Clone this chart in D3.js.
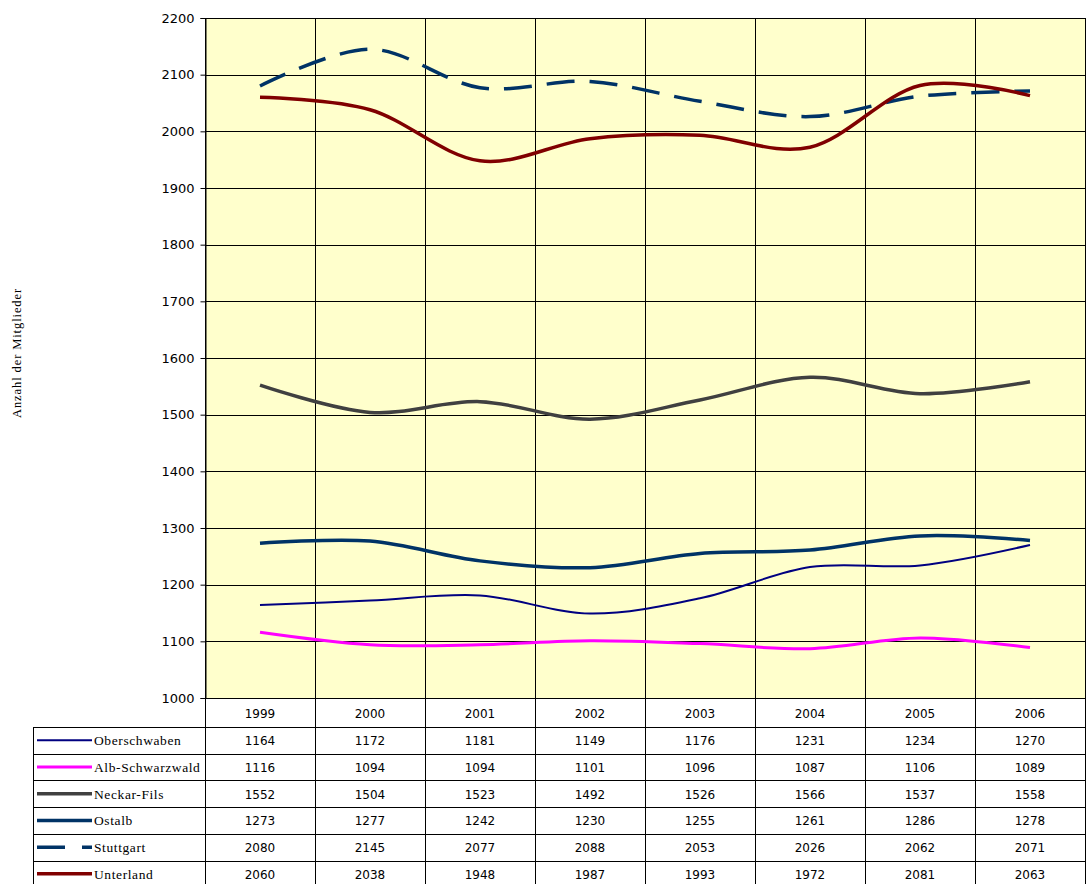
<!DOCTYPE html>
<html>
<head>
<meta charset="utf-8">
<script src="https://cdn.jsdelivr.net/npm/d3@7"></script>
<style>
  body { margin: 0; background: #fff; }
</style>
</head>
<body>
<div id="chart"></div>
<script>
// Data
let years = ["1999", "2000", "2001", "2002", "2003", "2004", "2005", "2006"];
let regions = ["Oberschwaben", "Alb-Schwarzwald", "Neckar-Fils", "Ostalb", "Stuttgart", "Unterland"];
let oberschwaben = [1164, 1172, 1181, 1149, 1176, 1231, 1234, 1270];
let albSchwarzwald = [1116, 1094, 1094, 1101, 1096, 1087, 1106, 1089];
let neckarFils = [1552, 1504, 1523, 1492, 1526, 1566, 1537, 1558];
let ostalb = [1273, 1277, 1242, 1230, 1255, 1261, 1286, 1278];
let stuttgart = [2080, 2145, 2077, 2088, 2053, 2026, 2062, 2071];
let unterland = [2060, 2038, 1948, 1987, 1993, 1972, 2081, 2063];
let yTicks = [1000, 1100, 1200, 1300, 1400, 1500, 1600, 1700, 1800, 1900, 2000, 2100, 2200];

// series styles
let seriesList = [
  { name: regions[0], values: oberschwaben, color: "#000080", width: 2, dash: null },
  { name: regions[1], values: albSchwarzwald, color: "#FF00FF", width: 3, dash: null },
  { name: regions[2], values: neckarFils, color: "#404040", width: 3.5, dash: null },
  { name: regions[3], values: ostalb, color: "#003366", width: 3.5, dash: null },
  { name: regions[4], values: stuttgart, color: "#003366", width: 3.5, dash: "28,15" },
  { name: regions[5], values: unterland, color: "#800000", width: 3.5, dash: null }
];

let numFont = "'DejaVu Sans', Tahoma, sans-serif";
let nameFont = "'Liberation Serif', 'DejaVu Serif', serif";

let svgWidth = 1086;
let svgHeight = 884;

// plot area
let plot = { left: 205, right: 1085, top: 18, bottom: 698 };
let headerHeight = 29;
let rowHeight = 26.7;
let tableLeft = 33;

let svg = d3.select("#chart")
  .append("svg")
  .attr("width", svgWidth)
  .attr("height", svgHeight);

let x = d3.scaleBand()
  .domain(years)
  .range([plot.left, plot.right]);

let y = d3.scaleLinear()
  .domain([1000, 2200])
  .range([plot.bottom, plot.top]);

// background
svg.append("rect")
  .attr("x", plot.left)
  .attr("y", plot.top)
  .attr("width", plot.right - plot.left)
  .attr("height", plot.bottom - plot.top)
  .attr("fill", "#FFFFCC");

// horizontal gridlines
svg.append("g")
  .selectAll("line")
  .data(yTicks)
  .enter()
  .append("line")
  .attr("x1", plot.left)
  .attr("x2", plot.right)
  .attr("y1", d => Math.round(y(d)) + 0.5)
  .attr("y2", d => Math.round(y(d)) + 0.5)
  .attr("stroke", "#000")
  .attr("stroke-width", 1);

let tableBottom = plot.bottom + headerHeight + rowHeight * regions.length;

// vertical lines (category boundaries), running through the table
let bounds = years.map(d => x(d)).concat([plot.right]);
svg.append("g")
  .selectAll("line")
  .data(bounds)
  .enter()
  .append("line")
  .attr("x1", d => Math.round(d) + 0.5)
  .attr("x2", d => Math.round(d) + 0.5)
  .attr("y1", plot.top)
  .attr("y2", tableBottom)
  .attr("stroke", "#000")
  .attr("stroke-width", 1);

// y axis
let leftAxis = d3.axisLeft(y)
  .tickValues(yTicks)
  .tickFormat(d3.format("d"))
  .tickSize(5)
  .tickPadding(6);

let yAxisG = svg.append("g")
  .attr("transform", `translate(${plot.left + 0.5}, 0)`)
  .call(leftAxis);
yAxisG.select(".domain").attr("stroke", "#000");
yAxisG.selectAll("text")
  .style("font-family", numFont)
  .style("font-size", "13px")
  .attr("fill", "#000");

// y axis title
svg.append("text")
  .attr("transform", `translate(21, 353) rotate(-90)`)
  .attr("text-anchor", "middle")
  .style("font-family", nameFont)
  .style("font-size", "12.5px")
  .style("letter-spacing", "0.9px")
  .text("Anzahl der Mitglieder");

// table: header row with years
svg.append("g")
  .selectAll("text")
  .data(years)
  .enter()
  .append("text")
  .attr("x", d => x(d) + x.bandwidth() / 2)
  .attr("y", plot.bottom + headerHeight / 2 + 5)
  .attr("text-anchor", "middle")
  .style("font-family", numFont)
  .style("font-size", "12px")
  .text(d => d);

// table row lines
let rowLines = d3.range(regions.length + 1).map(i => plot.bottom + headerHeight + i * rowHeight);
svg.append("g")
  .selectAll("line")
  .data(rowLines)
  .enter()
  .append("line")
  .attr("x1", tableLeft)
  .attr("x2", plot.right)
  .attr("y1", d => Math.round(d) + 0.5)
  .attr("y2", d => Math.round(d) + 0.5)
  .attr("stroke", "#000");

svg.append("line")
  .attr("x1", tableLeft + 0.5)
  .attr("x2", tableLeft + 0.5)
  .attr("y1", plot.bottom + headerHeight)
  .attr("y2", tableBottom)
  .attr("stroke", "#000");

// table rows: legend key, name and values
seriesList.forEach(function(s, i) {
  let rowY = plot.bottom + headerHeight + i * rowHeight + rowHeight / 2;
  let row = svg.append("g");

  row.append("line")
    .attr("x1", 37)
    .attr("x2", 92)
    .attr("y1", rowY)
    .attr("y2", rowY)
    .attr("stroke", s.color)
    .attr("stroke-width", s.width)
    .attr("stroke-dasharray", s.dash ? "28,17" : null);

  row.append("text")
    .attr("x", 94)
    .attr("y", rowY + 5)
    .style("font-family", nameFont)
    .style("font-size", "13.5px")
    .style("letter-spacing", "0.6px")
    .text(s.name);

  row.selectAll("text.val")
    .data(s.values)
    .enter()
    .append("text")
    .attr("class", "val")
    .attr("x", (d, j) => x(years[j]) + x.bandwidth() / 2)
    .attr("y", rowY + 5)
    .attr("text-anchor", "middle")
    .style("font-family", numFont)
    .style("font-size", "12px")
    .text(d => d);
});

// lines
let line = d3.line()
  .x((d, i) => x(years[i]) + x.bandwidth() / 2)
  .y(d => y(d))
  .curve(d3.curveCatmullRom.alpha(0));

svg.append("g")
  .selectAll("path")
  .data(seriesList)
  .enter()
  .append("path")
  .attr("d", d => line(d.values))
  .attr("fill", "none")
  .attr("stroke", d => d.color)
  .attr("stroke-width", d => d.width)
  .attr("stroke-dasharray", d => d.dash);
</script>
</body>
</html>
